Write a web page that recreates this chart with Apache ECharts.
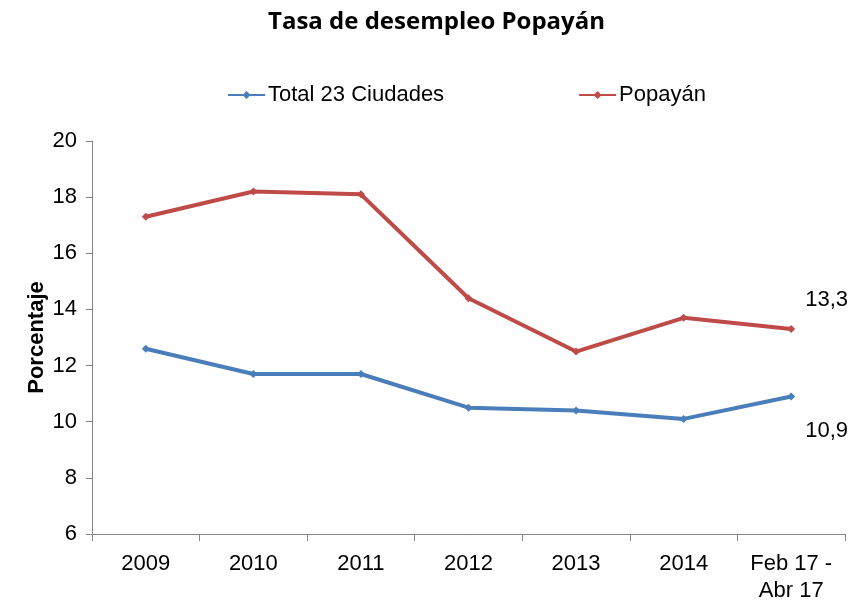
<!DOCTYPE html>
<html>
<head>
<meta charset="utf-8">
<script src="https://cdn.jsdelivr.net/npm/echarts@6/dist/echarts.min.js"></script>
<style>
  html, body { margin: 0; padding: 0; background: #fff; }
  #chart { width: 853px; height: 604px; }
</style>
</head>
<body>
<div id="chart"></div>
<script>
// Unemployment rate, Popayán vs. the 23-city total
const categories = ['2009', '2010', '2011', '2012', '2013', '2014', 'Feb 17 -\nAbr 17'];
const total23 = [12.6, 11.7, 11.7, 10.5, 10.4, 10.1, 10.9];
const popayan = [17.3, 18.2, 18.1, 14.4, 12.5, 13.7, 13.3];
const yTicks = [6, 8, 10, 12, 14, 16, 18, 20];

const BLUE = '#4A7EBB';
const RED = '#BE4B48';
const AXIS = '#868686';
const FONT = '"Liberation Sans", Arial, sans-serif';
const FS = 22;

function fmt(v) { return String(v).replace('.', ','); }

// Only the last point of each series carries a value label
function withLastLabel(values, offset) {
  return values.map((v, i) => i === values.length - 1
    ? { value: v, label: { show: true, position: 'right', offset: offset,
        formatter: p => fmt(p.value), color: '#000', fontSize: FS, fontFamily: FONT } }
    : v);
}

const chart = echarts.init(document.getElementById('chart'), null, { renderer: 'canvas' });
chart.setOption({
  animation: false,
  backgroundColor: '#fff',
  title: {
    text: 'Tasa de desempleo Popayán',
    left: 268,
    top: 10,
    padding: 0,
    textStyle: { fontFamily: '"Open Sans", sans-serif', fontWeight: 'bold', fontSize: 24, color: '#000' }
  },
  legend: {
    top: 79,
    left: 222,
    itemWidth: 37,
    itemHeight: 10,
    itemGap: 134,
    textStyle: { fontFamily: FONT, fontSize: FS, color: '#000', padding: [0, 0, 0, -2] },
    data: ['Total 23 Ciudades', 'Popayán']
  },
  grid: { left: 92, right: 8, top: 141, bottom: 65, containLabel: false },
  xAxis: {
    type: 'category',
    data: categories,
    boundaryGap: true,
    axisLine: { lineStyle: { color: AXIS, width: 1 } },
    axisTick: { show: true, alignWithLabel: false, length: 7, lineStyle: { color: AXIS } },
    axisLabel: { color: '#000', fontFamily: FONT, fontSize: FS, margin: 16, lineHeight: 27, interval: 0 }
  },
  yAxis: {
    type: 'value',
    min: yTicks[0],
    max: yTicks[yTicks.length - 1],
    interval: 2,
    name: 'Porcentaje',
    nameLocation: 'middle',
    nameGap: 44,
    nameMoveOverlap: false,
    nameTextStyle: { fontFamily: FONT, fontWeight: 'bold', fontSize: FS, color: '#000' },
    splitLine: { show: false },
    axisLine: { show: true, lineStyle: { color: AXIS, width: 1 } },
    axisTick: { show: true, length: 6, lineStyle: { color: AXIS } },
    axisLabel: { color: '#000', fontFamily: FONT, fontSize: FS, margin: 15 }
  },
  series: [
    {
      name: 'Total 23 Ciudades',
      type: 'line',
      data: withLastLabel(total23, [5, 34]),
      symbol: 'diamond',
      symbolSize: 8,
      lineStyle: { color: BLUE, width: 4 },
      itemStyle: { color: BLUE },
      z: 3
    },
    {
      name: 'Popayán',
      type: 'line',
      data: withLastLabel(popayan, [5, -29]),
      symbol: 'diamond',
      symbolSize: 8,
      lineStyle: { color: RED, width: 4 },
      itemStyle: { color: RED },
      z: 3
    }
  ]
});
</script>
</body>
</html>
